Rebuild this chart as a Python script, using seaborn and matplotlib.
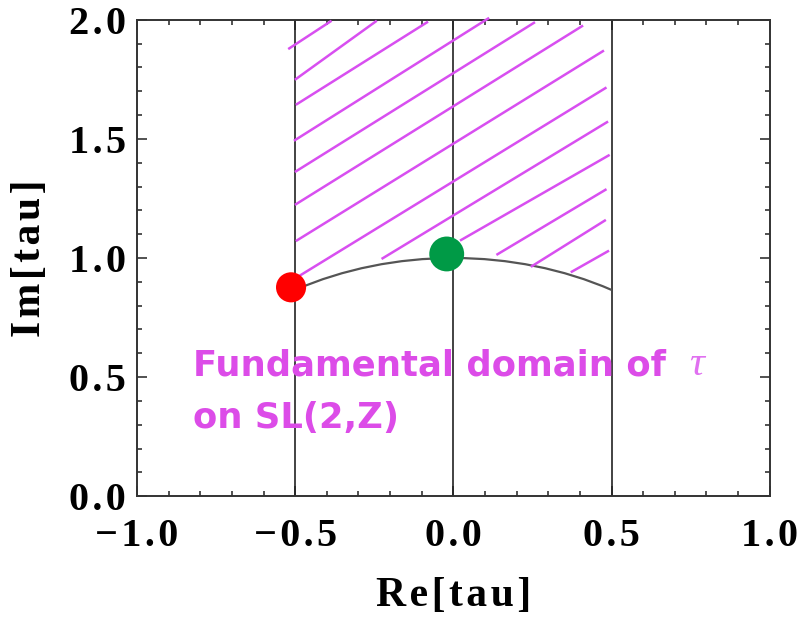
import numpy as np
import pandas as pd
import matplotlib
matplotlib.use("Agg")
import matplotlib.pyplot as plt
from matplotlib.patches import Arc
from matplotlib.ticker import MultipleLocator, FuncFormatter
import seaborn as sns

# boundaries of the fundamental domain
boundary_x = [-0.5, 0.0, 0.5]
arc_center = (0.0, 0.0)
arc_radius = 1.0
arc_theta = (60, 120)

# hand drawn hatch strokes
hatch_x0 = [-0.522, -0.501, -0.498, -0.504, -0.501, -0.501, -0.498, -0.488, -0.227, 0.021, 0.136, 0.245, 0.371]
hatch_y0 = [1.877, 1.748, 1.643, 1.492, 1.361, 1.223, 1.071, 0.924, 0.996, 1.073, 1.013, 0.963, 0.940]
hatch_x1 = [-0.385, -0.242, -0.080, 0.113, 0.258, 0.410, 0.476, 0.484, 0.489, 0.494, 0.484, 0.482, 0.492]
hatch_y1 = [1.996, 1.996, 1.992, 2.008, 1.990, 1.976, 1.871, 1.716, 1.573, 1.433, 1.289, 1.160, 1.031]

# marked points
pts = pd.DataFrame({
    "re": [-0.513, -0.021],
    "im": [0.877, 1.017],
    "name": ["red", "green"],
})
pt_colors = {"red": "#ff0000", "green": "#009a46"}
pt_sizes = {"red": 470, "green": 630}

HS = "\u200a"  # hair space, mimics the wide Mathematica letter spacing


def spaced(s):
    return HS.join(s)


def tick_fmt(v, pos):
    s = "%.1f" % abs(v)
    if v < -1e-9:
        s = "\u2212" + s
    return spaced(s)


sns.set_theme(style="ticks")
plt.rcParams["font.family"] = ["Liberation Serif", "DejaVu Serif"]

fig = plt.figure(figsize=(8.01, 6.18), dpi=100)
ax = fig.add_axes([0.171, 0.197, 0.790, 0.771])

for bx in boundary_x:
    ax.axvline(bx, color="#222222", lw=1.2, zorder=2)

ax.add_patch(Arc(arc_center, 2 * arc_radius, 2 * arc_radius,
                 theta1=arc_theta[0], theta2=arc_theta[1],
                 color="#555555", lw=1.6, zorder=2))

hatch_col = "#d84ff0"
for x0, y0, x1, y1 in zip(hatch_x0, hatch_y0, hatch_x1, hatch_y1):
    ax.plot([x0, x1], [y0, y1], color=hatch_col, lw=1.8, solid_capstyle="butt",
            clip_on=False, zorder=3)

sns.scatterplot(data=pts, x="re", y="im", hue="name", size="name",
                palette=pt_colors, sizes=pt_sizes, edgecolor="none",
                legend=False, ax=ax, zorder=5, clip_on=False)

txt_col = "#dc4ce8"
ax.text(-0.823, 0.508, "Fundamental domain of", color=txt_col, fontsize=25.5,
        fontweight="bold", family="DejaVu Sans", zorder=6)
ax.text(0.745, 0.508, "τ", color="#e070f0", fontsize=30, style="italic",
        family="Liberation Serif", zorder=6)
ax.text(-0.823, 0.286, "on SL(2,Z)", color=txt_col, fontsize=25.5,
        fontweight="bold", family="DejaVu Sans", zorder=6)

ax.set_xlim(-1, 1)
ax.set_ylim(0, 2)
ax.xaxis.set_major_locator(MultipleLocator(0.5))
ax.xaxis.set_minor_locator(MultipleLocator(0.1))
ax.yaxis.set_major_locator(MultipleLocator(0.5))
ax.yaxis.set_minor_locator(MultipleLocator(0.1))
ax.xaxis.set_major_formatter(FuncFormatter(tick_fmt))
ax.yaxis.set_major_formatter(FuncFormatter(tick_fmt))
ax.tick_params(which="both", direction="in", top=True, right=True,
               color="#333333", width=1.2)
ax.tick_params(which="major", length=7)
ax.tick_params(which="minor", length=3.6)
ax.tick_params(axis="x", which="major", pad=15.5)
ax.tick_params(axis="y", which="major", pad=8)
for lab in ax.get_xticklabels() + ax.get_yticklabels():
    lab.set_fontsize(29)
    lab.set_fontweight("bold")
    lab.set_color("black")

for sp in ax.spines.values():
    sp.set_color("#333333")
    sp.set_linewidth(1.4)

ax.set_xlabel(spaced("Re[tau]"), fontsize=30, fontweight="bold", labelpad=16, color="black")
ax.set_ylabel(spaced("Im[tau]"), fontsize=30, fontweight="bold", labelpad=14, color="black")

fig.savefig("out.png", dpi=100)
